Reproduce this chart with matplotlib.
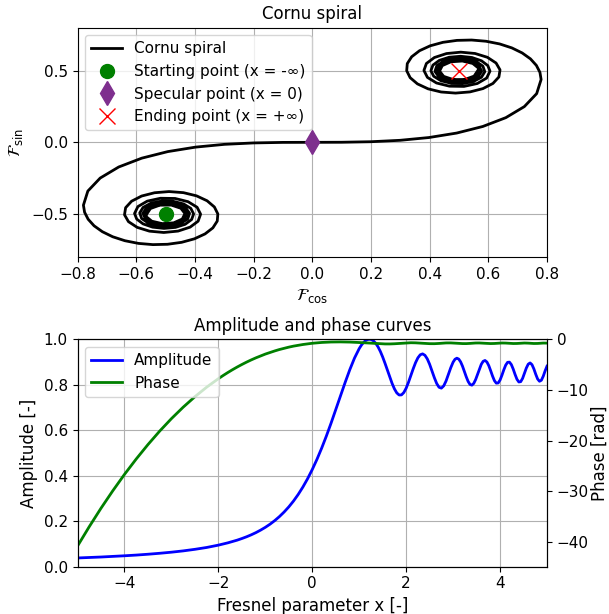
import matplotlib
matplotlib.use('Agg')
import matplotlib.pyplot as plt
plt.rcParams['font.size'] = 11

# Cornu spiral, x > 0 half (F_cos, F_sin)
right_c = [0.0000, 0.0999, 0.1999, 0.2994, 0.3975, 0.4923, 0.5811, 0.6597, 0.7228, 0.7648, 0.7799,
           0.7759, 0.7638, 0.7436, 0.7154, 0.6801, 0.6386, 0.5923, 0.5431, 0.4933, 0.4453,
           0.4017, 0.3655, 0.3388, 0.3238, 0.3218, 0.3336, 0.3584, 0.3944, 0.4390, 0.4882,
           0.5375, 0.5815, 0.6157, 0.6361, 0.6399, 0.6264, 0.5968, 0.5549, 0.5061, 0.4574,
           0.4162, 0.3890, 0.3805, 0.3925, 0.4233, 0.4675, 0.5171, 0.5624, 0.5942, 0.6057,
           0.5982, 0.5767, 0.5442, 0.5054, 0.4663, 0.4331, 0.4112, 0.4043, 0.4139, 0.4385,
           0.4738, 0.5134, 0.5501, 0.5767, 0.5880, 0.5815, 0.5584, 0.5233, 0.4837, 0.4481,
           0.4244, 0.4182, 0.4311, 0.4601, 0.4984, 0.5368, 0.5654, 0.5771, 0.5685, 0.5417,
           0.5040, 0.4655, 0.4371, 0.4270, 0.4383, 0.4678, 0.5067, 0.5432, 0.5658, 0.5672,
           0.5469, 0.5114, 0.4723, 0.4431, 0.4338, 0.4479, 0.4804, 0.5198, 0.5515, 0.5636]
right_s = [0.0000, 0.0005, 0.0042, 0.0141, 0.0334, 0.0647, 0.1105, 0.1721, 0.2493, 0.3398, 0.4383,
           0.4881, 0.5365, 0.5822, 0.6234, 0.6587, 0.6863, 0.7050, 0.7135, 0.7111, 0.6975,
           0.6731, 0.6389, 0.5968, 0.5492, 0.4993, 0.4509, 0.4077, 0.3733, 0.3511, 0.3434,
           0.3517, 0.3746, 0.4106, 0.4559, 0.5054, 0.5532, 0.5931, 0.6196, 0.6289, 0.6191,
           0.5915, 0.5500, 0.5011, 0.4529, 0.4140, 0.3916, 0.3901, 0.4102, 0.4481, 0.4963,
           0.5354, 0.5688, 0.5916, 0.6003, 0.5933, 0.5716, 0.5385, 0.4994, 0.4608, 0.4297,
           0.4115, 0.4097, 0.4249, 0.4543, 0.4923, 0.5314, 0.5637, 0.5822, 0.5830, 0.5656,
           0.5339, 0.4947, 0.4573, 0.4303, 0.4205, 0.4304, 0.4577, 0.4955, 0.5341, 0.5632,
           0.5749, 0.5658, 0.5383, 0.5001, 0.4623, 0.4360, 0.4293, 0.4444, 0.4768, 0.5162,
           0.5500, 0.5670, 0.5615, 0.5350, 0.4968, 0.4600, 0.4378, 0.4384, 0.4618, 0.4992]

# x < 0 half, from x = -5 towards 0
left_c = [-0.5636, -0.5515, -0.5198, -0.4804, -0.4479, -0.4338, -0.4431, -0.4723, -0.5114, -0.5469,
          -0.5672, -0.5658, -0.5432, -0.5067, -0.4678, -0.4383, -0.4270, -0.4371, -0.4655, -0.5040,
          -0.5417, -0.5685, -0.5771, -0.5654, -0.5368, -0.4984, -0.4601, -0.4311, -0.4182, -0.4244,
          -0.4481, -0.4837, -0.5233, -0.5584, -0.5815, -0.5880, -0.5767, -0.5501, -0.5134, -0.4738,
          -0.4385, -0.4139, -0.4043, -0.4112, -0.4331, -0.4663, -0.5054, -0.5442, -0.5767, -0.5982,
          -0.6057, -0.5942, -0.5624, -0.5171, -0.4675, -0.4233, -0.3925, -0.3805, -0.3890, -0.4162,
          -0.4574, -0.5061, -0.5549, -0.5968, -0.6264, -0.6399, -0.6361, -0.6157, -0.5815, -0.5375,
          -0.4882, -0.4390, -0.3944, -0.3584, -0.3336, -0.3218, -0.3238, -0.3388, -0.3655, -0.4017,
          -0.4453, -0.4933, -0.5431, -0.5923, -0.6386, -0.6801, -0.7154, -0.7436, -0.7638, -0.7759,
          -0.7799, -0.7648, -0.7228, -0.6597, -0.5811, -0.4923, -0.3975, -0.2994, -0.1999, -0.0999]
left_s = [-0.4992, -0.4618, -0.4384, -0.4378, -0.4600, -0.4968, -0.5350, -0.5615, -0.5670, -0.5500,
          -0.5162, -0.4768, -0.4444, -0.4293, -0.4360, -0.4623, -0.5001, -0.5383, -0.5658, -0.5749,
          -0.5632, -0.5341, -0.4955, -0.4577, -0.4304, -0.4205, -0.4303, -0.4573, -0.4947, -0.5339,
          -0.5656, -0.5830, -0.5822, -0.5637, -0.5314, -0.4923, -0.4543, -0.4249, -0.4097, -0.4115,
          -0.4297, -0.4608, -0.4994, -0.5385, -0.5716, -0.5933, -0.6003, -0.5916, -0.5688, -0.5354,
          -0.4963, -0.4481, -0.4102, -0.3901, -0.3916, -0.4140, -0.4529, -0.5011, -0.5500, -0.5915,
          -0.6191, -0.6289, -0.6196, -0.5931, -0.5532, -0.5054, -0.4559, -0.4106, -0.3746, -0.3517,
          -0.3434, -0.3511, -0.3733, -0.4077, -0.4509, -0.4993, -0.5492, -0.5968, -0.6389, -0.6731,
          -0.6975, -0.7111, -0.7135, -0.7050, -0.6863, -0.6587, -0.6234, -0.5822, -0.5365, -0.4881,
          -0.4383, -0.3398, -0.2493, -0.1721, -0.1105, -0.0647, -0.0334, -0.0141, -0.0042, -0.0005]

start_pt = (-0.5, -0.5)
specular_pt = (0.0, 0.0)
end_pt = (0.5, 0.5)

# amplitude / phase vs Fresnel parameter
x_neg = [-5.0, -4.75, -4.5, -4.25, -4.0, -3.75, -3.5, -3.25, -3.0, -2.75, -2.5, -2.25,
         -2.0, -1.9, -1.8, -1.7, -1.6, -1.5, -1.4, -1.3, -1.2, -1.1,
         -1.0, -0.9, -0.8, -0.7, -0.6, -0.5, -0.4, -0.3, -0.2, -0.1, 0.0]
amp_neg = [0.0385, 0.0405, 0.0427, 0.0452, 0.0481, 0.0512, 0.0549, 0.0591, 0.0639, 0.0696, 0.0765, 0.0846,
           0.0949, 0.0997, 0.1049, 0.1106, 0.1168, 0.1239, 0.1316, 0.1403, 0.1500, 0.1610,
           0.1732, 0.1870, 0.2027, 0.2204, 0.2405, 0.2631, 0.2887, 0.3177, 0.3503, 0.3868, 0.4274]
phase_neg = [-40.83, -37.00, -33.36, -29.93, -26.68, -23.64, -20.79, -18.13, -15.67, -13.41, -11.34, -9.46,
             -7.78, -7.16, -6.57, -6.01, -5.48, -4.98, -4.51, -4.07, -3.66, -3.28,
             -2.92, -2.60, -2.30, -2.02, -1.78, -1.55, -1.35, -1.18, -1.03, -0.90, -0.785]

x_pos = [0.1, 0.2, 0.3, 0.4, 0.5, 0.6, 0.7, 0.8, 0.9, 1.0,
         1.05, 1.1, 1.15, 1.2, 1.25, 1.3, 1.35, 1.4, 1.45, 1.5,
         1.55, 1.6, 1.65, 1.7, 1.75, 1.8, 1.85, 1.9, 1.95, 2.0,
         2.05, 2.1, 2.15, 2.2, 2.25, 2.3, 2.35, 2.4, 2.45, 2.5,
         2.55, 2.6, 2.65, 2.7, 2.75, 2.8, 2.85, 2.9, 2.95, 3.0,
         3.04, 3.08, 3.12, 3.16, 3.2, 3.24, 3.28, 3.32, 3.36, 3.4,
         3.44, 3.48, 3.52, 3.56, 3.6, 3.64, 3.68, 3.72, 3.76, 3.8,
         3.84, 3.88, 3.92, 3.96, 4.0, 4.04, 4.08, 4.12, 4.16, 4.2,
         4.24, 4.28, 4.32, 4.36, 4.4, 4.44, 4.48, 4.52, 4.56, 4.6,
         4.64, 4.68, 4.72, 4.76, 4.8, 4.84, 4.88, 4.92, 4.96, 5.0]
amp_pos = [0.4722, 0.5213, 0.5744, 0.6310, 0.6900, 0.7504, 0.8101, 0.8667, 0.9176, 0.9591,
           0.9753, 0.9878, 0.9963, 1.0000, 0.9995, 0.9938, 0.9829, 0.9671, 0.9467, 0.9221,
           0.8942, 0.8645, 0.8345, 0.8062, 0.7820, 0.7643, 0.7551, 0.7555, 0.7659, 0.7852,
           0.8113, 0.8406, 0.8704, 0.8973, 0.9186, 0.9320, 0.9359, 0.9297, 0.9139, 0.8901,
           0.8613, 0.8315, 0.8058, 0.7891, 0.7852, 0.7952, 0.8169, 0.8455, 0.8750, 0.8995,
           0.9122, 0.9169, 0.9130, 0.9008, 0.8819, 0.8588, 0.8350, 0.8146, 0.8014, 0.7984,
           0.8061, 0.8230, 0.8457, 0.8695, 0.8900, 0.9032, 0.9069, 0.9002, 0.8842, 0.8620,
           0.8382, 0.8182, 0.8071, 0.8080, 0.8207, 0.8419, 0.8658, 0.8864, 0.8987, 0.8996,
           0.8890, 0.8692, 0.8453, 0.8242, 0.8123, 0.8137, 0.8280, 0.8505, 0.8738, 0.8906,
           0.8961, 0.8885, 0.8700, 0.8463, 0.8255, 0.8154, 0.8200, 0.8376, 0.8613, 0.8820]
phase_pos = [-0.6953, -0.6245, -0.5716, -0.5363, -0.5172, -0.5138, -0.5254, -0.5497, -0.5861, -0.6326,
             -0.6592, -0.6869, -0.7161, -0.7460, -0.7763, -0.8059, -0.8344, -0.8608, -0.8836, -0.9025,
             -0.9155, -0.9210, -0.9180, -0.9051, -0.8827, -0.8511, -0.8133, -0.7735, -0.7364, -0.7065,
             -0.6874, -0.6800, -0.6845, -0.6994, -0.7228, -0.7518, -0.7837, -0.8152, -0.8428, -0.8629,
             -0.8723, -0.8681, -0.8494, -0.8183, -0.7803, -0.7446, -0.7189, -0.7083, -0.7140, -0.7334,
             -0.7558, -0.7817, -0.8076, -0.8305, -0.8467, -0.8541, -0.8503, -0.8353, -0.8104, -0.7807,
             -0.7523, -0.7318, -0.7222, -0.7254, -0.7393, -0.7616, -0.7879, -0.8134, -0.8333, -0.8436,
             -0.8412, -0.8253, -0.7993, -0.7696, -0.7448, -0.7316, -0.7325, -0.7460, -0.7691, -0.7956,
             -0.8195, -0.8346, -0.8365, -0.8233, -0.7980, -0.7684, -0.7455, -0.7358, -0.7419, -0.7609,
             -0.7869, -0.8122, -0.8293, -0.8319, -0.8182, -0.7917, -0.7632, -0.7437, -0.7407, -0.7541]

spiral_c = left_c + right_c
spiral_s = left_s + right_s
fresnel_x = x_neg + x_pos
amplitude = amp_neg + amp_pos
phase = phase_neg + phase_pos

fig = plt.figure(figsize=(6.09, 6.14), dpi=100)
ax1 = fig.add_axes([0.1273, 0.5814, 0.7709, 0.3736])
ax2 = fig.add_axes([0.1273, 0.0770, 0.7709, 0.3704])

# top: Cornu spiral
ax1.plot(spiral_c, spiral_s, color='k', lw=2, label='Cornu spiral')
ax1.plot(*start_pt, 'o', color='g', ms=10, label='Starting point (x = -∞)')
ax1.plot(*specular_pt, 'd', color='#7E2F8E', ms=12, label='Specular point (x = 0)')
ax1.plot(*end_pt, 'x', color='r', ms=11, label='Ending point (x = +∞)')
ax1.set_xlim(-0.8, 0.8)
ax1.set_ylim(-0.8, 0.8)
ax1.set_yticks([-0.5, 0.0, 0.5])
ax1.set_xlabel(r'$\mathcal{F}_{\cos}$', fontsize=12)
ax1.set_ylabel(r'$\mathcal{F}_{\sin}$', fontsize=12)
ax1.set_title('Cornu spiral', fontsize=12)
ax1.grid(True)
ax1.legend(loc='upper left', numpoints=1)

# bottom: amplitude and phase
ax3 = ax2.twinx()
l1, = ax2.plot(fresnel_x, amplitude, color='b', lw=2, label='Amplitude')
l2, = ax3.plot(fresnel_x, phase, color='g', lw=2, label='Phase')
ax2.set_xlim(-5, 5)
ax2.set_ylim(0, 1)
ax3.set_ylim(1.1 * min(phase), 0)
ax2.set_xlabel('Fresnel parameter x [-]', fontsize=12)
ax2.set_ylabel('Amplitude [-]', fontsize=12)
ax3.set_ylabel('Phase [rad]', fontsize=12, labelpad=1)
ax2.set_title('Amplitude and phase curves', fontsize=12)
ax2.grid(True)
ax3.legend([l1, l2], ['Amplitude', 'Phase'], loc='upper left')

plt.savefig('out.png', dpi=100)
